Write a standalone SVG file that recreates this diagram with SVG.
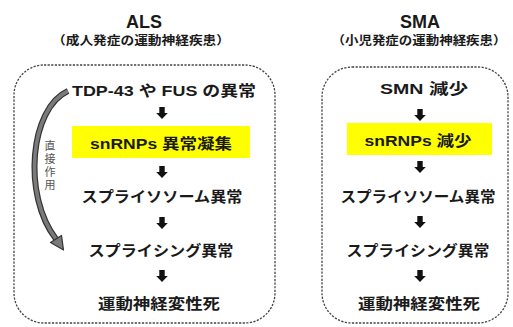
<svg xmlns="http://www.w3.org/2000/svg" width="513" height="327" viewBox="0 0 513 327">
<defs>
<style>
.t{font-family:"Liberation Sans","Noto Sans CJK JP",sans-serif;font-weight:bold;fill:#1a1a1a;text-anchor:middle}
.h{font-size:18px}
.s{font-size:12px}
.n{font-size:15px}
.v{font-family:"Noto Sans CJK JP",sans-serif;font-size:11px;fill:#555;writing-mode:vertical-rl;letter-spacing:2px}
.box{fill:none;stroke:#444;stroke-width:1.3;stroke-dasharray:2.2 1.4}
.hl{fill:#ffff00}
.arr{fill:#111}
</style>
<path id="da" d="M-2.7 0 H2.7 V6 H5.8 L0 12 L-5.8 6 H-2.7 Z"/>
</defs>
<g id="als-title">
<text class="t h" x="144" y="28">ALS</text>
<text class="t s" x="141" y="45" textLength="178" lengthAdjust="spacingAndGlyphs">（成人発症の運動神経疾患）</text>
</g>
<g id="sma-title">
<text class="t h" x="420" y="28">SMA</text>
<text class="t s" x="419" y="45" textLength="175" lengthAdjust="spacingAndGlyphs">（小児発症の運動神経疾患）</text>
</g>
<g id="als-box"><rect class="box" x="14" y="65" width="261" height="258" rx="30" ry="30"/></g>
<g id="sma-box"><rect class="box" x="322" y="67" width="186" height="256" rx="30" ry="30"/></g>
<g id="als-1"><text class="t n" x="164" y="96" textLength="184" lengthAdjust="spacingAndGlyphs">TDP-43 や FUS の異常</text></g>
<g id="als-2"><rect class="hl" x="72" y="126" width="178" height="32"/><text class="t n" x="161" y="149" textLength="142" lengthAdjust="spacingAndGlyphs">snRNPs 異常凝集</text></g>
<g id="als-3"><text class="t n" x="162" y="202" textLength="161" lengthAdjust="spacingAndGlyphs">スプライソソーム異常</text></g>
<g id="als-4"><text class="t n" x="161" y="256" textLength="145" lengthAdjust="spacingAndGlyphs">スプライシング異常</text></g>
<g id="als-5"><text class="t n" x="159" y="309" textLength="122" lengthAdjust="spacingAndGlyphs">運動神経変性死</text></g>
<g id="sma-1"><text class="t n" x="424" y="94" textLength="88" lengthAdjust="spacingAndGlyphs">SMN 減少</text></g>
<g id="sma-2"><rect class="hl" x="347" y="123" width="145" height="32"/><text class="t n" x="418" y="146" textLength="107" lengthAdjust="spacingAndGlyphs">snRNPs 減少</text></g>
<g id="sma-3"><text class="t n" x="418" y="202" textLength="155" lengthAdjust="spacingAndGlyphs">スプライソソーム異常</text></g>
<g id="sma-4"><text class="t n" x="418" y="256" textLength="143" lengthAdjust="spacingAndGlyphs">スプライシング異常</text></g>
<g id="sma-5"><text class="t n" x="419" y="309" textLength="122" lengthAdjust="spacingAndGlyphs">運動神経変性死</text></g>
<g id="connectors">
<use href="#da" class="arr" x="162" y="107"/>
<use href="#da" class="arr" x="162" y="166"/>
<use href="#da" class="arr" x="162" y="217"/>
<use href="#da" class="arr" x="162" y="270"/>
<use href="#da" class="arr" x="420" y="109"/>
<use href="#da" class="arr" x="420" y="161"/>
<use href="#da" class="arr" x="420" y="216"/>
<use href="#da" class="arr" x="420" y="270"/>
<g id="direct-action">
<path d="M68 91 C 30 108, 22 195, 56 239" fill="none" stroke="#333" stroke-width="6"/>
<path d="M68 91 C 30 108, 22 195, 56 239" fill="none" stroke="#7a7a7a" stroke-width="3.6"/>
<polygon points="50.5,242.5 61.5,235.5 63.5,250" fill="#7a7a7a" stroke="#333" stroke-width="1.2" stroke-linejoin="round"/>
<text class="v" x="50" y="140">直接作用</text>
</g>
</g>
</svg>
